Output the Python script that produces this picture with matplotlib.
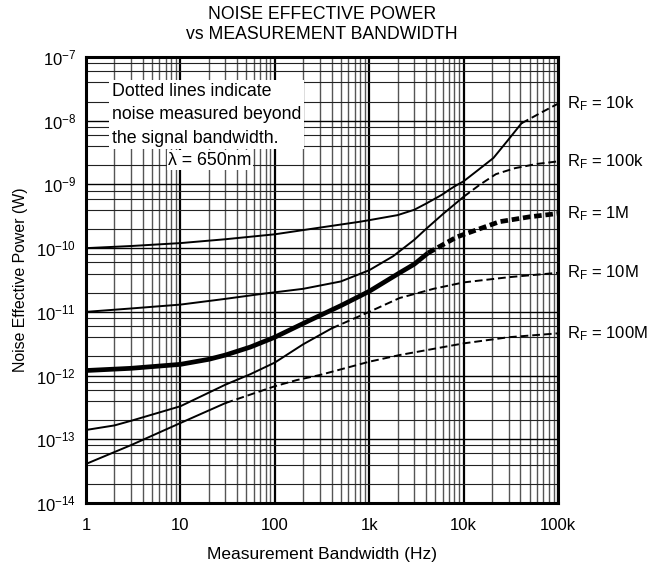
import numpy as np
import matplotlib
matplotlib.use("Agg")
import matplotlib.pyplot as plt
from matplotlib.ticker import LogLocator, NullFormatter

plt.rcParams['font.family'] = ['Liberation Sans', 'DejaVu Sans']
plt.rcParams['mathtext.fontset'] = 'custom'
plt.rcParams['mathtext.rm'] = 'Liberation Sans'
plt.rcParams['mathtext.it'] = 'Liberation Sans:italic'

# values (Hz, W); *_d = dotted part beyond signal bandwidth
f_10k = [1, 3, 10, 30, 100, 300, 800, 1000, 2000, 3000, 4000, 5000, 6000, 7000, 8000,
         10000, 14000, 20700, 30000, 41000]
p_10k = [1.0e-10, 1.08e-10, 1.2e-10, 1.38e-10, 1.65e-10, 2.1e-10, 2.6e-10, 2.75e-10,
         3.3e-10, 4.0e-10, 5.0e-10, 6.0e-10, 7.0e-10, 8.2e-10, 9.3e-10,
         1.12e-9, 1.65e-9, 2.6e-9, 5.1e-9, 9.1e-9]
f_10k_d = [41000, 70000, 100000]
p_10k_d = [9.1e-9, 1.4e-8, 1.85e-8]

f_100k = [1, 3, 10, 30, 70, 200, 500, 1000, 1800, 3000, 4000, 6000, 10000]
p_100k = [1.0e-11, 1.13e-11, 1.3e-11, 1.6e-11, 1.9e-11, 2.3e-11, 3.0e-11, 4.5e-11,
          7.5e-11, 1.35e-10, 2.0e-10, 3.4e-10, 6.4e-10]
f_100k_d = [10000, 15000, 22000, 35000, 60000, 100000]
p_100k_d = [6.4e-10, 1.0e-9, 1.45e-9, 1.8e-9, 2.1e-9, 2.3e-9]

f_1M = [1, 3, 10, 20, 30, 55, 100, 236, 500, 1000, 2100, 3000, 4200]
p_1M = [1.2e-12, 1.3e-12, 1.5e-12, 1.8e-12, 2.1e-12, 2.8e-12, 4.0e-12, 7.4e-12,
        1.25e-11, 2.1e-11, 4.1e-11, 5.6e-11, 8.4e-11]
f_1M_d = [4200, 8500, 24000, 50000, 100000]
p_1M_d = [8.4e-11, 1.5e-10, 2.6e-10, 3.1e-10, 3.5e-10]

f_10M = [1, 2, 3, 10, 30, 55, 100, 200, 400]
p_10M = [1.4e-13, 1.65e-13, 1.95e-13, 3.3e-13, 7.2e-13, 1.05e-12, 1.6e-12, 3.1e-12, 5.5e-12]
f_10M_d = [400, 1000, 2100, 4800, 10000, 30000, 100000]
p_10M_d = [5.5e-12, 1.0e-11, 1.65e-11, 2.3e-11, 2.9e-11, 3.5e-11, 4.1e-11]

f_100M = [1, 3, 10, 30]
p_100M = [4.1e-14, 8.1e-14, 1.8e-13, 3.7e-13]
f_100M_d = [30, 100, 171, 300, 1000, 2100, 10000, 30000, 100000]
p_100M_d = [3.7e-13, 6.8e-13, 8.5e-13, 1.02e-12, 1.65e-12, 2.1e-12, 3.2e-12, 4.0e-12, 4.6e-12]

rf_labels = ["10k", "100k", "1M", "10M", "100M"]

x_ticks = [1, 10, 100, 1000, 10000, 100000]
x_ticklabels = ["1", "10", "100", "1k", "10k", "100k"]
y_exps = [-14, -13, -12, -11, -10, -9, -8, -7]

fig = plt.figure(figsize=(6.52, 5.69), dpi=100)
ax = fig.add_axes([0.1319, 0.116, 0.7239, 0.7838])
ax.set_xscale("log")
ax.set_yscale("log")
ax.set_xlim(1, 1e5)
ax.set_ylim(1e-14, 1e-7)

# grid: every 2..9 vertically, 2,4,6,8 horizontally
ax.xaxis.set_minor_locator(LogLocator(base=10, subs=np.arange(2, 10)))
ax.yaxis.set_minor_locator(LogLocator(base=10, subs=[2, 4, 6, 8]))
ax.xaxis.set_minor_formatter(NullFormatter())
ax.yaxis.set_minor_formatter(NullFormatter())
ax.grid(which="major", axis="x", color="black", lw=1.6)
ax.grid(which="major", axis="y", color="black", lw=1.0)
ax.grid(which="minor", axis="x", color="#555555", lw=1.0)
ax.grid(which="minor", axis="y", color="#222222", lw=0.8)
ax.set_axisbelow(True)

thin = 1.4
thick = 3.4
ax.plot(f_10k, p_10k, color="black", lw=thin)
ax.plot(f_10k_d, p_10k_d, color="black", lw=thin, dashes=(4, 2))
ax.plot(f_100k, p_100k, color="black", lw=thin)
ax.plot(f_100k_d, p_100k_d, color="black", lw=thin, dashes=(4, 2))
ax.plot(f_1M, p_1M, color="black", lw=thick, solid_capstyle="butt")
ax.plot(f_1M_d, p_1M_d, color="black", lw=thick, dashes=(1.6, 0.8))
ax.plot(f_10M, p_10M, color="black", lw=thin)
ax.plot(f_10M_d, p_10M_d, color="black", lw=thin, dashes=(4, 2))
ax.plot(f_100M, p_100M, color="black", lw=thin)
ax.plot(f_100M_d, p_100M_d, color="black", lw=thin, dashes=(4, 2))

ends = [p_10k_d[-1], p_100k_d[-1], p_1M_d[-1], p_10M_d[-1], p_100M_d[-1]]
for lab, yv in zip(rf_labels, ends):
    ax.text(1.019, yv, r"R$_\mathregular{F}$ = " + lab, transform=ax.get_yaxis_transform(),
            ha="left", va="center", fontsize=12, clip_on=False)

ax.set_xticks(x_ticks)
ax.set_xticklabels(x_ticklabels)
ax.set_yticks([10.0 ** e for e in y_exps])
ax.set_yticklabels([r"10$^{\mathregular{%d}}$" % e for e in y_exps])
ax.tick_params(which="both", length=0, labelsize=12)
ax.tick_params(axis="x", pad=11)
ax.tick_params(axis="y", pad=7)

for s in ax.spines.values():
    s.set_linewidth(2.2)

ax.text(0.055, 0.871, "Dotted lines indicate\nnoise measured beyond\nthe signal bandwidth.",
        transform=ax.transAxes, ha="left", va="center", fontsize=12.8, linespacing=1.5,
        bbox=dict(facecolor="white", edgecolor="none", pad=2))
ax.text(0.263, 0.769, r"λ = 650nm", transform=ax.transAxes, ha="center", va="center",
        fontsize=12.8, bbox=dict(facecolor="white", edgecolor="none", pad=1))

ax.set_title("NOISE EFFECTIVE POWER\nvs MEASUREMENT BANDWIDTH", fontsize=12.7, pad=13,
             linespacing=1.26)
ax.set_xlabel("Measurement Bandwidth (Hz)", fontsize=12.5, labelpad=10)
ax.set_ylabel("Noise Effective Power (W)", fontsize=11.4, labelpad=6)

fig.savefig("out.png", dpi=100)
